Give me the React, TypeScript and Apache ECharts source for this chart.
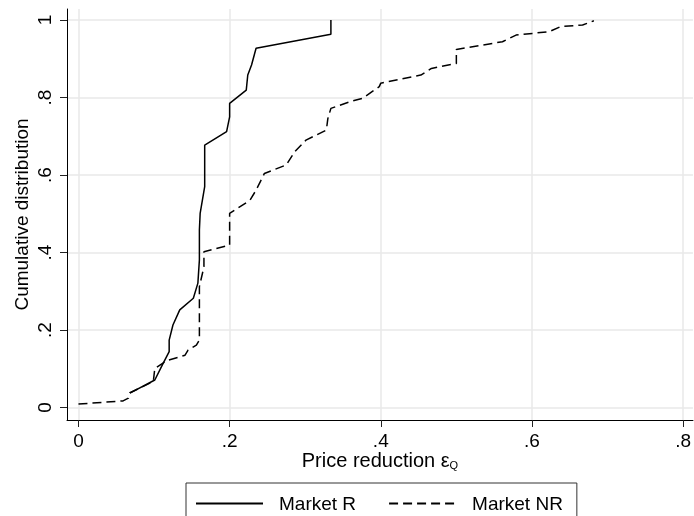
import React, { useEffect, useRef } from "react";
import * as echarts from "echarts";

const xTicks = [0, 0.2, 0.4, 0.6, 0.8];
const yTicks = [0, 0.2, 0.4, 0.6, 0.8, 1];

const marketRX = [0.068, 0.101, 0.112, 0.12, 0.12, 0.125, 0.134, 0.152, 0.158, 0.16, 0.16, 0.161, 0.167, 0.167, 0.196, 0.2, 0.2, 0.222, 0.224, 0.229, 0.235, 0.334, 0.334];
const marketRY = [0.037, 0.071, 0.114, 0.144, 0.174, 0.213, 0.252, 0.282, 0.321, 0.381, 0.458, 0.501, 0.57, 0.677, 0.712, 0.75, 0.785, 0.819, 0.858, 0.884, 0.927, 0.963, 1.0];

const marketNRX = [0.0, 0.059, 0.066, 0.068, 0.099, 0.101, 0.117, 0.141, 0.145, 0.156, 0.16, 0.16, 0.166, 0.166, 0.2, 0.2, 0.227, 0.235, 0.246, 0.275, 0.286, 0.301, 0.328, 0.33, 0.334, 0.359, 0.376, 0.398, 0.4, 0.453, 0.467, 0.5, 0.5, 0.561, 0.579, 0.623, 0.638, 0.667, 0.682];
const marketNRY = [0.009, 0.017, 0.024, 0.038, 0.067, 0.101, 0.121, 0.135, 0.148, 0.161, 0.174, 0.312, 0.363, 0.402, 0.419, 0.501, 0.535, 0.561, 0.604, 0.626, 0.66, 0.69, 0.716, 0.746, 0.772, 0.789, 0.798, 0.828, 0.837, 0.858, 0.875, 0.888, 0.924, 0.944, 0.961, 0.97, 0.983, 0.987, 0.998];

const seriesNames = ["Market R", "Market NR"];

const fmt = (v: number) => (v === 0 ? "0" : v === 1 ? "1" : String(v).replace(/^0/, ""));

export default function App() {
  const ref = useRef<HTMLDivElement>(null);
  useEffect(() => {
    if (!ref.current) return;
    const chart = echarts.init(ref.current, undefined, { renderer: "svg" });
    const font = "'Liberation Sans', Arial, sans-serif";
    chart.setOption({
      animation: false,
      textStyle: { fontFamily: font },
      grid: { left: 67, right: 0, top: 9, bottom: 96, containLabel: false },
      xAxis: {
        type: "value",
        min: -0.01519,
        max: 0.81308,
        name: "Price reduction ε{sub|Q}",
        nameLocation: "middle",
        nameMoveOverlap: false,
        nameGap: 30,
        nameTextStyle: {
          fontSize: 20,
          color: "#000",
          fontFamily: font,
          rich: { sub: { fontSize: 11, verticalAlign: "bottom", padding: [9, 0, 0, 0], color: "#000", fontFamily: font } },
        },
        axisLine: { show: true, onZero: false, lineStyle: { color: "#000", width: 1 } },
        axisTick: { show: true, length: 7, customValues: xTicks, lineStyle: { color: "#222" } },
        axisLabel: { customValues: xTicks, formatter: fmt, fontSize: 19, color: "#000", margin: 11, fontFamily: font },
        splitLine: { show: true, lineStyle: { color: "#e9e9e9", width: 1.5 } },
      },
      yAxis: {
        type: "value",
        min: -0.03226,
        max: 1.02839,
        name: "Cumulative distribution",
        nameLocation: "middle",
        nameMoveOverlap: false,
        nameGap: 36,
        nameTextStyle: { fontSize: 19, color: "#000", fontFamily: font },
        axisLine: { show: true, onZero: false, lineStyle: { color: "#000", width: 1 } },
        axisTick: { show: true, length: 7, customValues: yTicks, lineStyle: { color: "#222" } },
        axisLabel: { customValues: yTicks, formatter: fmt, rotate: 90, fontSize: 19, color: "#000", margin: 13, fontFamily: font },
        splitLine: { show: true, lineStyle: { color: "#e9e9e9", width: 1.5 } },
      },
      legend: {
        left: 186,
        top: 483,
        orient: "horizontal",
        padding: [11, 14, 30, 9],
        itemWidth: 67,
        itemHeight: 14,
        itemGap: 32,
        borderColor: "#333",
        borderWidth: 1,
        borderRadius: 0,
        itemStyle: { opacity: 0 },
        data: seriesNames.map((n) => ({ name: n })),
        textStyle: { fontSize: 19, color: "#000", padding: [0, 0, 0, 11], fontFamily: font },
      },
      series: [
        {
          name: seriesNames[0],
          type: "line",
          symbol: "none",
          data: marketRX.map((x, i) => [x, marketRY[i]]),
          lineStyle: { color: "#000", width: 1.5, type: "solid" },
          itemStyle: { color: "#000" },
        },
        {
          name: seriesNames[1],
          type: "line",
          symbol: "none",
          data: marketNRX.map((x, i) => [x, marketNRY[i]]),
          lineStyle: { color: "#000", width: 1.5, type: [9, 5] },
          itemStyle: { color: "#000" },
        },
      ],
    });
    return () => chart.dispose();
  }, []);
  return <div ref={ref} style={{ position: "fixed", left: 0, top: 0, width: 694, height: 516 }} />;
}
